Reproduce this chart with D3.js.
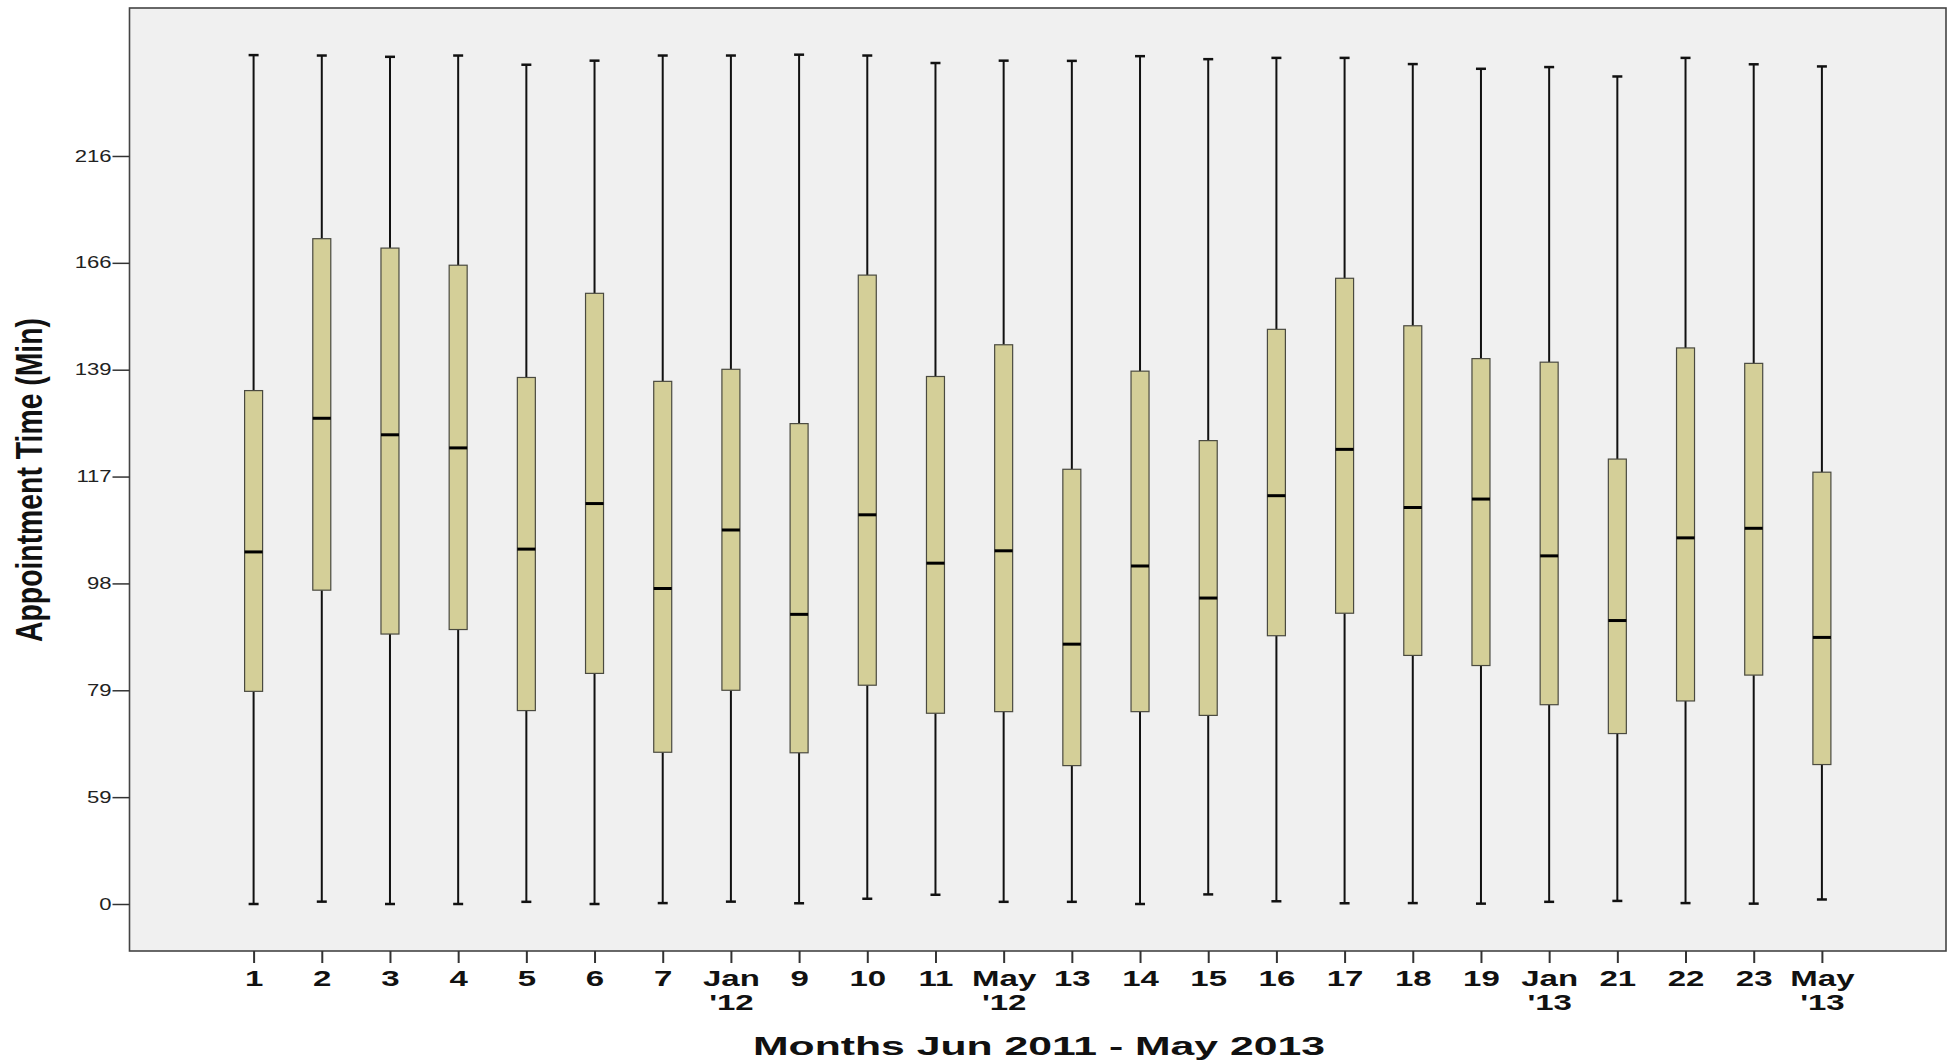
<!DOCTYPE html>
<html>
<head>
<meta charset="utf-8">
<script src="https://cdn.jsdelivr.net/npm/d3@7"></script>
<style>
  body { margin: 0; background: #fff; }
  text { font-family: "Liberation Sans", Arial, sans-serif; }
</style>
</head>
<body>
<div id="chart"></div>
<script>
// month labels (second line after \n)
var months = ["1", "2", "3", "4", "5", "6", "7", "Jan\n'12", "9", "10", "11", "May\n'12",
  "13", "14", "15", "16", "17", "18", "19", "Jan\n'13", "21", "22", "23", "May\n'13"];

var yTicks = [0, 59, 79, 98, 117, 139, 166, 216];

var whiskerLow = [0, 1.3, 0, 0, 1.2, 0, 0.5, 1.3, 0.4, 2.9, 5.1, 1.2,
  1.2, 0, 5.3, 1.5, 0.4, 0.5, 0.2, 1.2, 1.7, 0.5, 0.2, 2.5];
var q1 = [78.8, 96.8, 89.0, 89.8, 75.2, 82.0, 67.4, 79.0, 67.3, 79.9, 74.7, 75.0,
  64.9, 75.0, 74.3, 88.7, 92.7, 85.2, 83.4, 76.3, 70.9, 77.0, 81.7, 65.1];
var median = [103.6, 129.0, 125.6, 122.9, 104.1, 112.2, 97.1, 107.5, 92.5, 110.2, 101.6, 103.8,
  87.2, 101.1, 95.4, 113.6, 122.6, 111.5, 113.0, 102.9, 91.4, 106.1, 107.8, 88.4];
var q3 = [134.7, 177.3, 172.9, 165.4, 137.4, 158.3, 136.6, 139.1, 127.9, 162.9, 137.6, 145.3,
  118.5, 138.7, 124.4, 149.2, 162.1, 150.1, 141.8, 140.9, 120.6, 144.5, 140.6, 117.9];
var whiskerHigh = [263.2, 263, 262.4, 263, 258.7, 260.6, 263, 263, 263.4, 263, 259.5, 260.6,
  260.5, 262.7, 261.3, 261.9, 261.9, 259, 256.8, 257.6, 253.2, 261.9, 258.9, 257.9];

const width = 1956, height = 1063;
var plot = {left: 129.5, right: 1946, top: 8, bottom: 951};

var svg = d3.select("#chart").append("svg")
    .attr("width", width)
    .attr("height", height);

// plot background
svg.append("rect")
    .attr("x", plot.left)
    .attr("y", plot.top)
    .attr("width", plot.right - plot.left)
    .attr("height", plot.bottom - plot.top)
    .attr("fill", "#f0f0f0");

var x = d3.scalePoint()
    .domain(months)
    .range([plot.left, plot.right])
    .padding(1.82);

// the y axis is not linear: every tick sits at the same distance
var zeroY = 904, step = 106.86;
var y = d3.scaleLinear()
    .domain(yTicks)
    .range(yTicks.map(function(d, i) { return zeroY - i * step; }));

var data = months.map(function(m, i) {
  return {m: m, lo: whiskerLow[i], q1: q1[i], med: median[i], q3: q3[i], hi: whiskerHigh[i]};
});

var boxW = 18, capW = 10;

var g = svg.append("g");
var box = g.selectAll("g.box")
    .data(data)
    .join("g")
    .attr("class", "box")
    .attr("transform", function(d) { return "translate(" + x(d.m) + ",0)"; });

// whiskers
box.append("line")
    .attr("y1", function(d) { return y(d.hi); })
    .attr("y2", function(d) { return y(d.q3); })
    .attr("stroke", "#111").attr("stroke-width", 2);
box.append("line")
    .attr("y1", function(d) { return y(d.q1); })
    .attr("y2", function(d) { return y(d.lo); })
    .attr("stroke", "#111").attr("stroke-width", 2);
// caps
box.selectAll("line.cap")
    .data(function(d) { return [d.hi, d.lo]; })
    .join("line")
    .attr("class", "cap")
    .attr("x1", -capW / 2).attr("x2", capW / 2)
    .attr("y1", function(v) { return y(v); })
    .attr("y2", function(v) { return y(v); })
    .attr("stroke", "#111").attr("stroke-width", 2.5);

box.append("rect")
    .attr("x", -boxW / 2)
    .attr("width", boxW)
    .attr("y", function(d) { return y(d.q3); })
    .attr("height", function(d) { return y(d.q1) - y(d.q3); })
    .attr("fill", "#d4cf98")
    .attr("stroke", "#4a4a40")
    .attr("stroke-width", 1.2);

box.append("line")
    .attr("x1", -boxW / 2).attr("x2", boxW / 2)
    .attr("y1", function(d) { return y(d.med); })
    .attr("y2", function(d) { return y(d.med); })
    .attr("stroke", "#000").attr("stroke-width", 3);

// frame
svg.append("rect")
    .attr("x", plot.left)
    .attr("y", plot.top)
    .attr("width", plot.right - plot.left)
    .attr("height", plot.bottom - plot.top)
    .attr("fill", "none")
    .attr("stroke", "#444")
    .attr("stroke-width", 1.6);

// y axis
var yAxis = svg.append("g")
    .attr("transform", "translate(" + plot.left + ",0)")
    .call(d3.axisLeft(y).tickValues(yTicks).tickSize(17).tickFormat(d3.format("d")));
yAxis.select(".domain").remove();
yAxis.selectAll(".tick line").attr("stroke", "#333").attr("stroke-width", 1.5);
yAxis.selectAll(".tick text")
    .attr("x", -13)
    .attr("transform", "scale(1.38,1)")
    .style("font-size", "16px")
    .attr("fill", "#222");

// x axis
var xAxis = svg.append("g")
    .attr("transform", "translate(0," + plot.bottom + ")")
    .call(d3.axisBottom(x).tickSize(12));
xAxis.select(".domain").remove();
xAxis.selectAll(".tick line").attr("stroke", "#333").attr("stroke-width", 2);
xAxis.selectAll(".tick text").each(function(d) {
  var t = d3.select(this).text("").attr("y", 0).attr("dy", null)
      .attr("transform", "scale(1.5,1)")
      .style("font-size", "22px")
      .style("font-weight", "bold")
      .attr("fill", "#111");
  d.split("\n").forEach(function(line, i) {
    t.append("tspan").attr("x", 0).attr("y", 35 + i * 23.6).text(line);
  });
});

// axis titles
svg.append("text")
    .attr("x", 1039)
    .attr("y", 1055)
    .attr("text-anchor", "middle")
    .attr("textLength", 572)
    .attr("lengthAdjust", "spacingAndGlyphs")
    .style("font-size", "26px")
    .style("font-weight", "bold")
    .attr("fill", "#111")
    .text("Months Jun 2011 - May 2013");

svg.append("text")
    .attr("transform", "translate(42,480) rotate(-90) scale(1,1.45)")
    .attr("text-anchor", "middle")
    .attr("textLength", 324)
    .attr("lengthAdjust", "spacingAndGlyphs")
    .style("font-size", "26px")
    .style("font-weight", "bold")
    .attr("fill", "#111")
    .text("Appointment Time (Min)");
</script>
</body>
</html>
